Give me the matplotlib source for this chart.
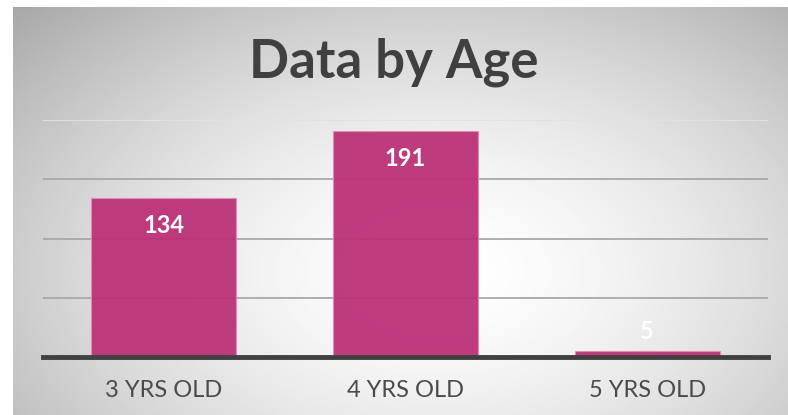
import matplotlib
matplotlib.use("Agg")
import matplotlib.pyplot as plt
import numpy as np

categories = ["3 YRS OLD", "4 YRS OLD", "5 YRS OLD"]
counts = [134, 191, 5]
title = "Data by Age"

bar_color = "#bc3178"
text_dark = "#404040"

fig = plt.figure(figsize=(7.88, 4.15), dpi=100)
fig.patch.set_facecolor("white")

# radial grey background panel
bg = fig.add_axes([13 / 788, 0, 775 / 788, 408 / 415])
bg.set_axis_off()
yy, xx = np.mgrid[0:1:300j, 0:1:500j]
r = np.sqrt(((xx - 0.55) / 0.75) ** 2 + ((yy - 0.35) / 0.9) ** 2)
shade = 1 - 0.33 * np.clip(r, 0, 1.3) ** 1.6
bg.imshow(shade, cmap="gray", vmin=0, vmax=1, aspect="auto",
          extent=[0, 1, 0, 1], origin="lower", interpolation="bilinear")
bg.set_xlim(0, 1)
bg.set_ylim(0, 1)

ax = fig.add_axes([43 / 788, 58 / 415, 725 / 788, 237 / 415])
ax.patch.set_alpha(0)
x = np.arange(len(categories))
bars = ax.bar(x, counts, width=0.6, color=bar_color, alpha=0.95,
              edgecolor="#e58ab8", linewidth=0.8, zorder=2)

ax.set_ylim(0, 200)
ax.set_xlim(-0.5, 2.5)
ax.set_yticks([50, 100, 150, 200])
ax.yaxis.grid(True, color="#a8a8a8", linewidth=1.3, zorder=1)
ax.get_ygridlines()[-1].set_color("#e2e2e2")
ax.tick_params(axis="y", left=False, labelleft=False)
ax.tick_params(axis="x", bottom=False, pad=13)
ax.set_xticks(x)
ax.set_xticklabels(categories, fontsize=17, color="#4a4a4a",
                   family=["Lato", "DejaVu Sans"], fontweight="normal")
for s in ["top", "right", "left"]:
    ax.spines[s].set_visible(False)
ax.spines["bottom"].set_color(text_dark)
ax.spines["bottom"].set_linewidth(3.5)
ax.spines["bottom"].set_zorder(3)

for xi, v in zip(x, counts):
    off = -20 if v > 20 else 14
    ax.annotate(str(v), (xi, v), xytext=(0, off), textcoords="offset points",
                ha="center", va="center", color="white", fontsize=17,
                fontweight="bold", family=["Lato", "DejaVu Sans"], zorder=4)

fig.text(0.5, 1 - 62 / 415, title, ha="center", va="center", fontsize=38,
         fontweight="bold", color=text_dark, family=["Lato", "DejaVu Sans"])

fig.savefig("out.png", dpi=100)
